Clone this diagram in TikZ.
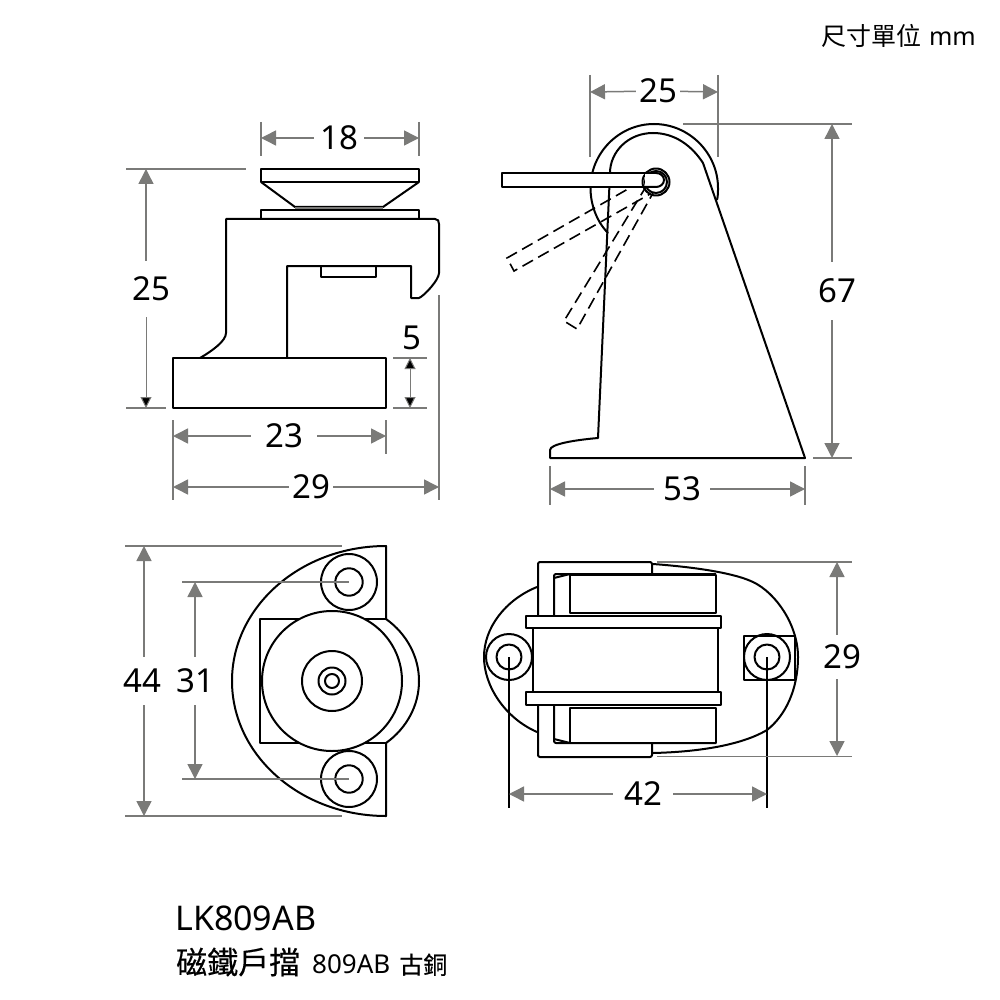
\documentclass[tikz,border=0pt]{standalone}
\usepackage{fontspec}
\setmainfont{Noto Sans}
\newfontfamily\cjk{Noto Sans CJK TC}
\newfontfamily\cjkheavy[FakeBold=0.4]{Noto Sans CJK TC}
\usetikzlibrary{arrows.meta}
\definecolor{dimgray}{RGB}{122,122,120}
\tikzset{
  part/.style={draw=black, line width=2pt, line join=round},
  hidden/.style={draw=black, line width=1.6pt, dash pattern=on 12pt off 6pt},
  extline/.style={draw=dimgray, line width=1.5pt},
  dimline/.style={draw=dimgray, line width=1.5pt, -{Triangle[length=15pt,width=15pt]}},
  smallline/.style={draw=dimgray, line width=1pt, -{Triangle[length=11pt,width=11pt,fill=black]}},
  dimlabel/.style={font=\fontsize{33}{33}\selectfont, inner xsep=6pt, inner ysep=12pt},
}
\begin{document}
\begin{tikzpicture}[x=1pt, y=-1pt]
  \useasboundingbox (0,0) rectangle (1000,1000);

  % side view
  \draw[part] (261,169) rectangle (419,182);
  \draw[part] (261,182) -- (295,207) -- (383,207) -- (419,182);
  \fill[dimgray] (295,207) rectangle (383,210);
  \draw[part] (261,219) -- (261,210) -- (419,210) -- (419,219);
  \draw[part] (200,358) .. controls (212,351) and (226,341) .. (226,333) -- (226,219) -- (435,219)
    .. controls (438,219) and (439,221) .. (439,224) -- (439,273)
    .. controls (439,280) and (424,296) .. (419,298) -- (411,298) -- (411,266) -- (287,266) -- (287,358);
  \draw[part] (321,266) -- (321,277) -- (376,277) -- (376,266);
  \draw[part] (173,358) rectangle (386,408);

  \node[dimlabel] (sideTop) at (339,138) {18};
  \coordinate (sideTopL) at (261,138);
  \coordinate (sideTopR) at (419,138);
  \draw[extline] (261,122) -- (261,156);
  \draw[extline] (419,122) -- (419,156);
  \draw[dimline] (sideTop) -- (sideTopL);
  \draw[dimline] (sideTop) -- (sideTopR);

  \node[dimlabel, inner ysep=16pt] (sideH) at (151,289) {25};
  \coordinate (sideHT) at (146,169);
  \coordinate (sideHB) at (146,408);
  \draw[extline] (126,169) -- (246,169);
  \draw[extline] (126,408) -- (166,408);
  \draw[dimline] (sideHT |- sideH.north) -- (sideHT);
  \draw[smallline] (sideHB |- sideH.south) -- (sideHB);

  \node[dimlabel, inner sep=0pt] (baseH) at (412,338) {5};
  \coordinate (baseHT) at (410,358);
  \coordinate (baseHB) at (410,408);
  \draw[extline] (393,358) -- (427,358);
  \draw[extline] (393,408) -- (427,408);
  \draw[smallline, {Triangle[length=11pt,width=11pt,fill=black]}-{Triangle[length=11pt,width=11pt,fill=black]}] (baseHT) -- (baseHB);

  \node[dimlabel, inner xsep=14pt] (baseW) at (284,436) {23};
  \coordinate (baseWL) at (173,436);
  \coordinate (baseWR) at (386,436);
  \draw[extline] (173,420) -- (173,500);
  \draw[extline] (386,420) -- (386,454);
  \draw[dimline] (baseW) -- (baseWL);
  \draw[dimline] (baseW) -- (baseWR);

  \node[dimlabel, inner xsep=3pt] (totalW) at (311,487) {29};
  \coordinate (totalWL) at (173,487);
  \coordinate (totalWR) at (439,487);
  \draw[extline] (439,295) -- (439,500);
  \draw[dimline] (totalW) -- (totalWL);
  \draw[dimline] (totalW) -- (totalWR);

  % front view with arm
  \draw[part] (717,200) .. controls (718,196) and (718,192) .. (718,188) .. controls (718,153) and (689,124) .. (654,124)
    .. controls (619,124) and (590.5,153) .. (590.5,188) .. controls (590.5,205) and (597,222) .. (608,233);
  \draw[part] (805,458) -- (703,163) .. controls (692,146) and (675,133) .. (653,133)
    .. controls (628,133) and (610,152) .. (610,173) -- (598,438)
    .. controls (575,440) and (550,444) .. (550,450) -- (550,458) -- cycle;
  \draw[hidden] (642,181) -- (507,258) -- (514,271) -- (650,194);
  \draw[hidden] (647,185) -- (564,321) -- (577,329) -- (653,193);
  \draw[part, fill=white] (645,173) -- (502,173) -- (502,187) -- (645,187);
  \coordinate (pivot) at (656,182);
  \draw[part] (pivot) circle[radius=13.5];
  \draw[part] (pivot) circle[radius=11];
  \draw[part, fill=white] (645,173) -- (656,173) arc[start angle=-90, end angle=-270, x radius=-8, y radius=7] -- (645,187);

  \node[dimlabel, inner xsep=3pt] (armW) at (658,91) {25};
  \coordinate (armWL) at (590,92);
  \coordinate (armWR) at (718,92);
  \draw[extline] (590,75) -- (590,157);
  \draw[extline] (718,75) -- (718,157);
  \draw[dimline] (armW) -- (armWL);
  \draw[dimline] (armW) -- (armWR);

  \node[dimlabel, inner ysep=17pt] (frontH) at (837,291) {67};
  \coordinate (frontHT) at (832,124);
  \coordinate (frontHB) at (832,458);
  \draw[extline] (683,124) -- (852,124);
  \draw[extline] (813,458) -- (852,458);
  \draw[dimline] (frontHT |- frontH.north) -- (frontHT);
  \draw[dimline] (frontHB |- frontH.south) -- (frontHB);

  \node[dimlabel, inner xsep=9pt] (frontW) at (682,489) {53};
  \coordinate (frontWL) at (550,489);
  \coordinate (frontWR) at (805,489);
  \draw[extline] (550,466) -- (550,505);
  \draw[extline] (805,466) -- (805,505);
  \draw[dimline] (frontW) -- (frontWL);
  \draw[dimline] (frontW) -- (frontWR);

  % base plate, lower left
  \draw[part] (386,619) -- (386,546) arc[start angle=-90, end angle=-270, x radius=154, y radius=135] -- (386,743);
  \draw[part] (386,619) .. controls (407,634) and (419,657) .. (419,681) .. controls (419,705) and (407,728) .. (386,743);
  \draw[part] (386,619) -- (260,619) -- (260,743) -- (386,743);
  \coordinate (hub) at (332,681);
  \draw[part, fill=white] (hub) circle[radius=70];
  \foreach \r in {30,13.5,7}
    \draw[part] (hub) circle[radius=\r];
  \coordinate (screwT) at (349,582);
  \coordinate (screwB) at (349,779);
  \foreach \s in {screwT,screwB} {
    \draw[part] (\s) circle[radius=28];
    \draw[part] (\s) circle[radius=13.7];
  }

  \node[dimlabel] (plateH) at (142,681) {44};
  \coordinate (plateHT) at (144,546);
  \coordinate (plateHB) at (144,816);
  \draw[extline] (125,546) -- (342,546);
  \draw[extline] (125,816) -- (342,816);
  \draw[dimline] (plateHT |- plateH.north) -- (plateHT);
  \draw[dimline] (plateHB |- plateH.south) -- (plateHB);

  \node[dimlabel] (screwH) at (195,681) {31};
  \coordinate (screwHT) at (195,582);
  \coordinate (screwHB) at (195,779);
  \draw[extline] (182,582) -- (screwT);
  \draw[extline] (182,779) -- (screwB);
  \draw[dimline] (screwHT |- screwH.north) -- (screwHT);
  \draw[dimline] (screwHB |- screwH.south) -- (screwHB);

  % top view, lower right
  \draw[part] (537,587) .. controls (505,600) and (484,628) .. (484,657) .. controls (484,686) and (505,718) .. (537,732);
  \draw[part] (653,564) .. controls (680,566) and (730,571) .. (753,582) .. controls (776,593) and (798,625) .. (798,657)
    .. controls (798,690) and (785,716) .. (767,730) .. controls (740,746) and (695,752) .. (653,753);
  \draw[part] (533,628) -- (533,692);
  \draw[part] (718,628) -- (718,692);
  \draw[part, rounded corners=2pt] (538,616) -- (538,562) -- (652,562) -- (652,574);
  \draw[part, rounded corners=2pt] (538,705) -- (538,757) -- (652,757) -- (652,743);
  \draw[part, rounded corners=2pt] (554,616) -- (554,574) -- (716,574);
  \draw[part, rounded corners=2pt] (554,705) -- (554,743) -- (716,743);
  \draw[part] (554,578) -- (570,574);
  \draw[part] (554,739) -- (570,743);
  \draw[part] (570,575) rectangle (716,613);
  \draw[part] (570,708) rectangle (716,743);
  \draw[part] (526,616) rectangle (721,628);
  \draw[part] (526,692) rectangle (721,705);
  \draw[part] (744,636) rectangle (795,680);
  \coordinate (boltL) at (509,657);
  \coordinate (boltR) at (767,657);
  \foreach \b in {boltL,boltR} {
    \draw[part] (\b) circle[radius=23];
    \draw[part] (\b) circle[radius=12.5];
  }

  \node[dimlabel, inner xsep=11pt] (boltW) at (643,794) {42};
  \coordinate (boltWL) at (509,794);
  \coordinate (boltWR) at (767,794);
  \coordinate (boltLB) at (509,808);
  \coordinate (boltRB) at (767,808);
  \draw[part] (boltL) -- (boltLB);
  \draw[part] (boltR) -- (boltRB);
  \draw[dimline] (boltW) -- (boltWL);
  \draw[dimline] (boltW) -- (boltWR);

  \node[dimlabel, inner ysep=10pt] (topH) at (842,657) {29};
  \coordinate (topHT) at (837,562);
  \coordinate (topHB) at (837,756);
  \draw[extline] (657,562) -- (852,562);
  \draw[extline, line width=.8pt] (657,756) -- (852,756);
  \draw[dimline] (topHT |- topH.north) -- (topHT);
  \draw[dimline] (topHB |- topH.south) -- (topHB);

  % captions
  \node[anchor=east, inner sep=0pt, font=\fontsize{25}{25}\selectfont] (unit) at (976,36) {{\cjk 尺寸單位}\hspace{8pt}mm};
  \node[anchor=west, inner sep=0pt, font=\fontsize{34}{34}\selectfont] (model) at (175,918) {LK809AB};
  \node[anchor=west, inner sep=0pt] (title) at (176,962) {{\cjkheavy\fontsize{31}{31}\selectfont 磁鐵戶擋}\hspace{12pt}{\fontsize{26}{26}\selectfont 809AB}\hspace{9pt}{\cjkheavy\fontsize{24}{24}\selectfont 古銅}};
\end{tikzpicture}
\end{document}
